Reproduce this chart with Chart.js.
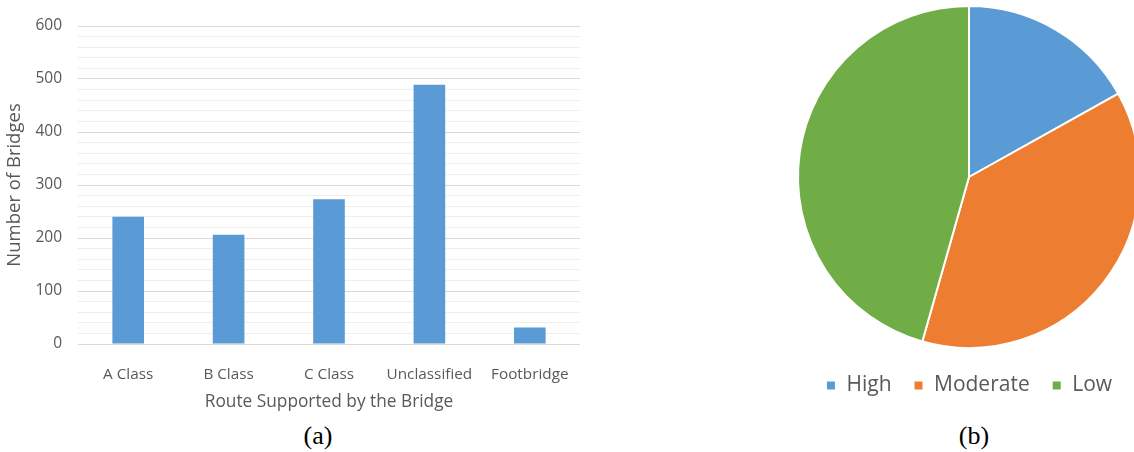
<!DOCTYPE html>
<html>
<head>
<meta charset="utf-8">
<script src="https://cdn.jsdelivr.net/npm/chart.js@4/dist/chart.umd.min.js"></script>
<style>
  html, body { margin: 0; padding: 0; background: #fff; width: 1134px; height: 452px; overflow: hidden; position: relative; }
  #barWrap { position: absolute; left: 0; top: 0; width: 600px; height: 420px; }
  #pieWrap { position: absolute; left: 769px; top: 0; width: 400px; height: 410px; }
  .cap { position: absolute; font-family: "Liberation Serif", "DejaVu Serif", serif; font-size: 26px; color: #000; transform: translateX(-50%); top: 421px; line-height: 30px; }
</style>
</head>
<body>
<div id="barWrap"><canvas id="bar" width="600" height="420"></canvas></div>
<div id="pieWrap"><canvas id="pie" width="400" height="410"></canvas></div>
<div class="cap" style="left:318px">(a)</div>
<div class="cap" style="left:974px">(b)</div>
<script>
// Bridges per supported route class
const routeCategories = ['A Class', 'B Class', 'C Class', 'Unclassified', 'Footbridge'];
const bridgeCounts = [240, 206, 273, 489, 31];
const yMajorTicks = [0, 100, 200, 300, 400, 500, 600];

// Share of bridges per risk level
const riskLevels = ['High', 'Moderate', 'Low'];
const riskShares = [16.9, 37.5, 45.6];

const textGray = '#595959';
const uiFont = '"Open Sans", "Liberation Sans", sans-serif';

new Chart(document.getElementById('bar'), {
  type: 'bar',
  data: {
    labels: routeCategories,
    datasets: [{
      data: bridgeCounts,
      backgroundColor: '#5b9bd5',
      borderWidth: 0,
      categoryPercentage: 1,
      barPercentage: 0.315
    }]
  },
  options: {
    responsive: false,
    animation: false,
    layout: { padding: { top: 26, right: 20, bottom: 0, left: 0 } },
    plugins: { legend: { display: false }, tooltip: { enabled: false } },
    scales: {
      x: {
        grid: { display: false },
        border: { display: false },
        ticks: { color: textGray, font: { family: uiFont, size: 15.3 }, padding: 13, maxRotation: 0 },
        title: { display: true, text: 'Route Supported by the Bridge', color: textGray,
                 font: { family: uiFont, size: 17.3 }, padding: { top: 0, bottom: 8 } },
        afterFit: s => { s.height = 76; }
      },
      y: {
        min: 0, max: 600,
        border: { display: false },
        grid: {
          drawTicks: false,
          // major lines every 100, lighter minor lines every 20
          color: c => (c.tick && yMajorTicks.includes(c.tick.value)) ? '#d9d9d9' : '#eeeeee',
          lineWidth: 1
        },
        ticks: {
          stepSize: 20,
          autoSkip: false,
          padding: 16,
          color: textGray,
          font: { family: uiFont, size: 15.5 },
          callback: v => yMajorTicks.includes(v) ? String(v) : ''
        },
        title: { display: true, text: 'Number of Bridges', color: textGray,
                 font: { family: uiFont, size: 18.5 }, padding: { top: 4, bottom: 0 } },
        afterFit: s => { s.width = 78; }
      }
    }
  }
});

new Chart(document.getElementById('pie'), {
  type: 'pie',
  data: {
    labels: riskLevels,
    datasets: [{
      data: riskShares,
      backgroundColor: ['#5b9bd5', '#ed7d31', '#70ad47'],
      borderColor: '#ffffff',
      borderWidth: 2
    }]
  },
  options: {
    responsive: false,
    animation: false,
    radius: 171,
    layout: { padding: { top: 1, bottom: 4, left: 0, right: 0 } },
    plugins: {
      tooltip: { enabled: false },
      legend: {
        position: 'bottom',
        labels: {
          color: textGray,
          font: { family: uiFont, size: 21 },
          boxWidth: 10,
          boxHeight: 10,
          padding: 22
        }
      }
    }
  }
});
</script>
</body>
</html>
